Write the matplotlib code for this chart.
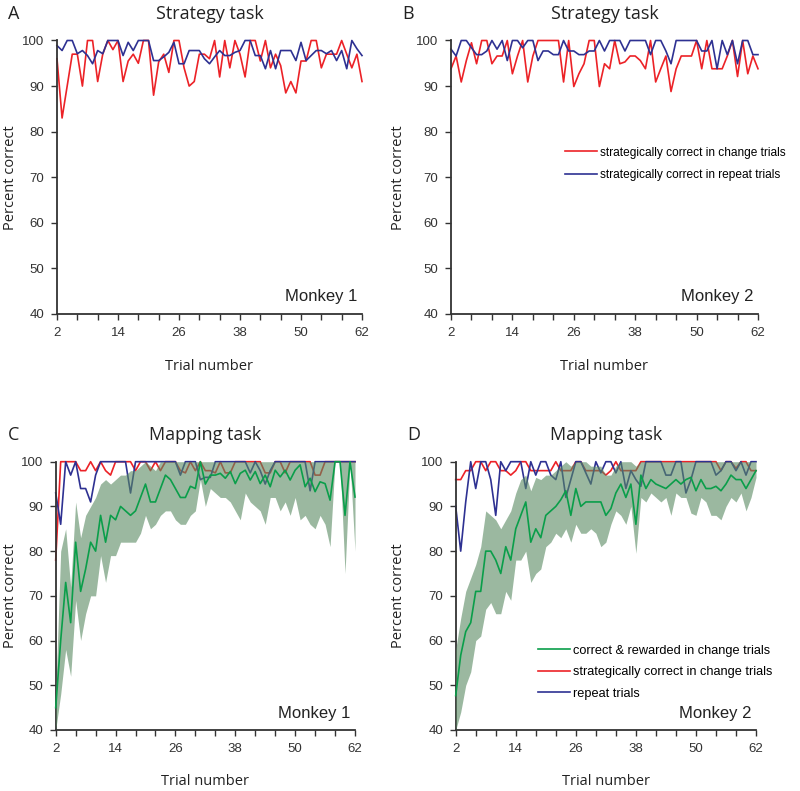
import numpy as np
import matplotlib
matplotlib.use('Agg')
import matplotlib.pyplot as plt

plt.rcParams['font.family'] = ['Liberation Sans', 'DejaVu Sans']

RED = '#ec2227'
BLUE = '#2e3192'
GREEN = '#0a9e4a'
BAND = '#588a61'

trials = np.arange(2, 63)
xticks_major = [2, 14, 26, 38, 50, 62]
xticks_minor = [6, 10, 18, 22, 30, 34, 42, 46, 54, 58]
yticks = [40, 50, 60, 70, 80, 90, 100]

# --- Strategy task, monkey 1 ---
a_change = [96, 83, 90, 97, 97, 90, 100, 100, 91, 97, 100, 98, 100, 91, 95.5, 97,
            95, 100, 100, 88, 95.3, 97, 93, 100, 100, 94, 90, 91, 97, 97, 96, 100,
            92, 100, 94, 100, 97, 92, 100, 100, 95.5, 100, 94, 97, 94.5, 88.5, 91,
            88.5, 95.5, 95.5, 100, 100, 94, 97, 97, 97, 100, 97, 94, 97, 91]
a_repeat = [98.9, 97.8, 100, 100, 97.1, 97.8, 96.7, 94.9, 97.8, 97.1, 100, 100, 100,
            96.7, 99.6, 97.8, 100, 100, 100, 95.6, 95.6, 96.4, 97.4, 99.6, 94.9, 94.9,
            97.8, 97.8, 97.8, 96, 94.9, 96.4, 97.8, 96.7, 96.7, 97.4, 97.8, 100, 100,
            96.7, 96.7, 93.8, 97.8, 93.8, 97.8, 97.8, 97.8, 95.6, 99.6, 95.6, 96.7,
            97.8, 97.8, 97.1, 97.8, 95.6, 97.8, 93.8, 100, 98.2, 96.7]

# --- Strategy task, monkey 2 ---
b_change = [93.8, 96.6, 90.9, 95.6, 99.5, 94.9, 100, 100, 94.9, 96.6, 96.6, 100, 92.7,
            96.6, 100, 90.9, 96.6, 100, 100, 100, 100, 100, 90.9, 100, 89.9, 92.7, 94.9,
            100, 100, 89.9, 94.9, 93.8, 100, 94.9, 95.3, 96.6, 96.6, 95.6, 93.8, 100,
            90.9, 93.8, 96.6, 88.8, 93.8, 96.6, 96.6, 96.6, 100, 93.8, 100, 93.8, 93.8,
            93.8, 96.6, 100, 92.1, 100, 92.7, 96.6, 93.8]
b_repeat = [98.1, 96.6, 100, 100, 98.4, 96.9, 96.9, 97.7, 100, 98.1, 100, 95.6, 100,
            100, 98.4, 100, 100, 95.6, 97.7, 97.7, 96.9, 96.9, 100, 97.7, 97.7, 96.9,
            96.9, 97.7, 97.7, 100, 97.7, 100, 100, 100, 97.7, 100, 100, 100, 100, 96.9,
            100, 100, 97.7, 94.9, 100, 100, 100, 100, 100, 97.7, 97.7, 100, 93.8, 100,
            96.9, 100, 94.9, 100, 100, 96.9, 96.9]

# --- Mapping task, monkey 1 ---
c_rewarded = [45, 60, 73, 64, 82, 71, 76, 82, 80, 88, 82, 88, 87, 90, 89, 88, 89, 92,
              95, 91, 91, 94, 97, 96, 94, 92, 92, 94.5, 94, 100, 95, 97, 97, 97.4,
              96.3, 97.8, 95.1, 97.4, 98.1, 95.9, 97.8, 95.1, 97, 94.4, 98.1, 96.6,
              98.1, 95.9, 98.1, 99.3, 94.4, 96.3, 93.3, 95.5, 95.1, 91.4, 100, 100,
              88, 100, 92.1]
c_lower = [40, 48, 58, 52, 69, 60, 66, 70, 70, 79, 73, 79, 79, 82, 82, 82, 82, 84, 88,
           85, 86, 88, 89, 89, 87, 86, 86, 88, 89, 96, 90, 94, 93, 92, 92, 91, 89, 87,
           93, 91, 90, 89, 86, 92, 92, 89, 91, 88, 92, 87, 88, 86, 85, 88, 86, 81, 100,
           100, 75, 100, 80]
c_upper = [48, 80, 85, 72, 91, 83, 88, 90, 92, 95, 96, 95, 96, 97, 97, 98, 98, 99, 100,
           99, 98, 100, 100, 100, 100, 100, 100, 100, 100, 100, 100, 100, 100, 100, 100,
           100, 100, 100, 100, 100, 100, 100, 100, 100, 100, 100, 100, 100, 100, 100,
           100, 100, 100, 100, 100, 100, 100, 100, 100, 100, 100]
c_change = [78, 100, 100, 100, 100, 98, 98, 100, 98, 100, 98, 97, 100, 100, 100, 100,
            98, 100, 100, 98, 100, 98, 100, 100, 100, 98, 97.5, 100, 98, 100, 98, 98,
            97.5, 100, 97.5, 97.5, 100, 100, 100, 100, 100, 100, 97.5, 97.5, 100, 100,
            97.5, 100, 100, 100, 100, 100, 97, 97, 100, 100, 100, 100, 100, 100, 100]
c_repeat = [93, 86, 100, 97, 100, 94, 94, 91, 97, 100, 100, 100, 100, 100, 100, 93, 100,
            100, 100, 100, 100, 100, 100, 100, 100, 97, 100, 100, 100, 96, 96.5, 96.5,
            100, 100, 100, 100, 100, 100, 100, 97.5, 100, 98, 95, 98, 100, 100, 100, 100,
            100, 100, 100, 93.5, 100, 100, 100, 100, 100, 100, 100, 100, 100]

# --- Mapping task, monkey 2 ---
d_rewarded = [47.7, 56.7, 62, 64, 71, 71, 80, 80, 78, 75, 81, 78, 85, 88, 91, 82, 85,
              83, 88, 89, 90, 91.5, 93.5, 88, 94, 90, 91, 91, 91, 91, 88, 89.5, 93, 95,
              92, 95, 86, 97, 94, 96, 95, 94.5, 94, 95, 96, 95, 96, 96.5, 93.5, 96, 94,
              94, 94.5, 93.5, 95, 97, 96, 96, 94, 96, 98]
d_lower = [40, 44, 50, 53, 60, 61, 67, 68.5, 66, 66, 71, 69, 78, 78, 80, 73, 75, 76, 81,
           82, 84, 83, 85, 82, 86, 84, 84, 85, 84, 81, 82, 86, 89, 88, 86, 90, 79.5, 92,
           91, 93, 92, 91, 92, 88, 93, 92, 92, 88.5, 88, 92, 91, 88, 88, 87, 90, 92, 91,
           93, 89, 92, 96.5]
d_upper = [58, 65, 71, 74, 77, 81, 89, 88, 87, 85, 87, 89, 93, 96, 97, 93.5, 96.5, 96,
           97, 97, 98, 99, 100, 99, 100, 100, 100, 99, 99, 99, 97, 97, 99, 100, 100, 100,
           99, 100, 100, 100, 100, 100, 100, 100, 100, 100, 100, 100, 100, 100, 100, 100,
           100, 100, 100, 100, 100, 100, 100, 100, 100]
d_change = [96, 96, 98, 98, 100, 100, 98, 100, 100, 98, 98, 97, 98, 100, 100, 98, 98, 98,
            98, 98, 100, 98, 98, 98, 100, 100, 98, 98, 98, 98, 97, 98, 100, 98, 98, 98,
            98, 100, 100, 100, 100, 100, 100, 100, 100, 100, 100, 100, 100, 100, 100,
            100, 100, 98, 100, 100, 98.5, 100, 100, 98, 98]
d_repeat = [90, 80, 91, 100, 94, 100, 100, 96, 88, 100, 98, 100, 100, 100, 94, 100, 97,
            100, 100, 97, 96, 100, 92, 96, 100, 100, 97.5, 95, 100, 97.5, 100, 100, 97.5,
            100, 94, 98, 96, 94.5, 100, 100, 100, 100, 97, 97, 100, 100, 93, 96, 100, 100,
            100, 100, 97, 98, 100, 100, 98, 100, 97, 100, 100]


def style_axes(ax, title, letter, monkey, ylab_x):
    ax.set_xlim(2, 62)
    ax.set_ylim(40, 100)
    for s in ['top', 'right']:
        ax.spines[s].set_visible(False)
    for s in ['left', 'bottom']:
        ax.spines[s].set_linewidth(1.3)
        ax.spines[s].set_color('#333333')
    ax.set_xticks(xticks_major)
    ax.set_xticks(xticks_minor, minor=True)
    ax.set_yticks(yticks)
    ax.tick_params(axis='both', which='both', direction='out', length=4, width=1,
                   color='#333333', labelsize=9.5, labelcolor='#333333', pad=5)
    ax.set_xlabel('Trial number', fontsize=10.5, family='Open Sans', color='#222222')
    ax.set_ylabel('Percent correct', fontsize=10.5, family='Open Sans', color='#222222')
    ax.xaxis.set_label_coords(0.5, -0.163)
    ax.yaxis.set_label_coords(ylab_x, 0.5)
    ax.text(0.5, 1.08, title, transform=ax.transAxes, ha='center', va='baseline',
            fontsize=13, family='Open Sans', color='#222222')
    ax.text(-0.16, 1.08, letter, transform=ax.transAxes, ha='left', va='baseline',
            fontsize=13, family='Open Sans', color='#222222')
    ax.text(0.985, 0.035, monkey, transform=ax.transAxes, ha='right', va='bottom',
            fontsize=12, color='#222222')


fig = plt.figure(figsize=(8, 7.91), dpi=100)
axA = fig.add_axes([57 / 800, 1 - 314 / 791, 305 / 800, 273.5 / 791])
axB = fig.add_axes([451 / 800, 1 - 314 / 791, 307 / 800, 273.5 / 791])
axC = fig.add_axes([55.7 / 800, 1 - 730 / 791, 299.3 / 800, 268.3 / 791])
axD = fig.add_axes([455.7 / 800, 1 - 730 / 791, 300.3 / 800, 268.3 / 791])

lw = 1.2
for ax, change, repeat in [(axA, a_change, a_repeat), (axB, b_change, b_repeat)]:
    ax.plot(trials, change, color=RED, lw=lw, clip_on=False,
            label='strategically correct in change trials')
    ax.plot(trials, repeat, color=BLUE, lw=lw, clip_on=False,
            label='strategically correct in repeat trials')

for ax, rew, lo, up, change, repeat in [
        (axC, c_rewarded, c_lower, c_upper, c_change, c_repeat),
        (axD, d_rewarded, d_lower, d_upper, d_change, d_repeat)]:
    ax.plot(trials, change, color=RED, lw=lw, clip_on=False, zorder=2,
            label='strategically correct in change trials')
    ax.plot(trials, repeat, color=BLUE, lw=lw, clip_on=False, zorder=2,
            label='repeat trials')
    ax.fill_between(trials, lo, up, color=BAND, alpha=0.6, lw=0, zorder=3)
    ax.plot(trials, rew, color=GREEN, lw=lw, clip_on=False, zorder=4,
            label='correct & rewarded in change trials')

style_axes(axA, 'Strategy task', 'A', 'Monkey 1', -0.128)
style_axes(axB, 'Strategy task', 'B', 'Monkey 2', -0.147)
style_axes(axC, 'Mapping task', 'C', 'Monkey 1', -0.126)
style_axes(axD, 'Mapping task', 'D', 'Monkey 2', -0.166)

axB.legend(loc='upper left', bbox_to_anchor=(0.37, 0.612), frameon=False, fontsize=8.6,
           handlelength=2.7, handletextpad=0.3, labelspacing=0.9, borderaxespad=0,
           borderpad=0)

h, l = axD.get_legend_handles_labels()
order = [2, 0, 1]
axD.legend([h[i] for i in order], [l[i] for i in order], loc='upper left',
           bbox_to_anchor=(0.273, 0.318), frameon=False, fontsize=9.2,
           handlelength=2.5, handletextpad=0.3, labelspacing=0.75, borderaxespad=0,
           borderpad=0)

plt.savefig('out.png', dpi=100)
